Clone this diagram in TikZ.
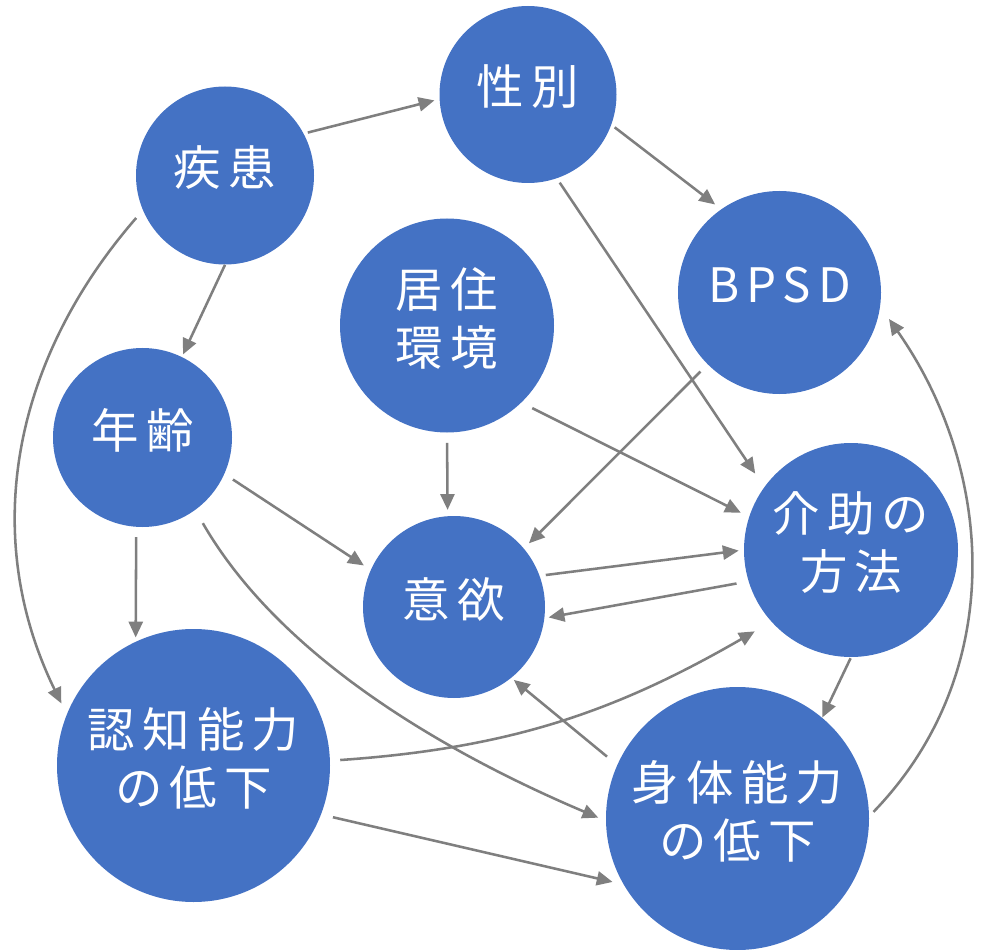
\documentclass[tikz,border=0pt]{standalone}
\usepackage{fontspec}
\setmainfont{Noto Sans CJK JP}[LetterSpace=15]
\usetikzlibrary{arrows.meta}
\definecolor{bubbleblue}{HTML}{4472C4}
\definecolor{linkgray}{HTML}{7F7F7F}

\begin{document}
\begin{tikzpicture}[
    bubble/.style={circle, fill=bubbleblue, inner sep=0pt},
    caption/.style={text=white, align=center, yshift=0.15cm,
        font=\fontsize{27}{33}\selectfont},
    link/.style={draw=linkgray, line width=1.45pt, -{Triangle[length=9pt,width=8pt]}}
]
    \useasboundingbox (0,0) rectangle (19.68,-19);

    \node[bubble, minimum size=3.56cm, label={[caption]center:疾患}] (disease) at (4.50, -3.51) {};
    \node[bubble, minimum size=3.54cm, label={[caption]center:性別}] (sex) at (10.56, -1.89) {};
    \node[bubble, minimum size=4.06cm, label={[caption]center:BPSD}] (bpsd) at (15.59, -5.85) {};
    \node[bubble, minimum size=4.28cm, label={[caption]center:{居住\\環境}}] (home) at (8.94, -6.51) {};
    \node[bubble, minimum size=3.58cm, label={[caption]center:年齢}] (age) at (2.85, -8.75) {};
    \node[bubble, minimum size=4.28cm, label={[caption]center:{介助の\\方法}}] (care) at (17.02, -11.00) {};
    \node[bubble, minimum size=3.64cm, label={[caption]center:意欲}] (motiv) at (9.08, -12.14) {};
    \node[bubble, minimum size=5.46cm, label={[caption]center:{認知能力\\の低下}}] (cogn) at (3.87, -15.31) {};
    \node[bubble, minimum size=5.26cm, label={[caption]center:{身体能力\\の低下}}] (phys) at (14.75, -16.37) {};

    % disease
    \draw[link, shorten <=0.08cm, shorten >=0.1cm] (disease.28) -- (sex.183);
    \draw[link, shorten >=0.05cm] (disease.-90) -- (age.64);
    \draw[link, shorten <=0.2cm, shorten >=0.24cm] (disease.203) to[out=229, in=116] (cogn.158);

    % sex
    \draw[link, shorten <=0.08cm, shorten >=0.15cm] (sex.-20) -- (bpsd.125);
    \draw[link, shorten <=0.1cm, shorten >=0.32cm] (sex.-71) -- (care.144);

    % bpsd
    \draw[link, shorten <=0.2cm, shorten >=0.14cm] (bpsd.225) -- (motiv.40);

    % home
    \draw[link, shorten <=0.2cm, shorten >=0.12cm] (home.-90) -- (motiv.94);
    \draw[link, shorten <=0.24cm, shorten >=0.18cm] (home.-46) -- (care.162);

    % age
    \draw[link, shorten <=0.2cm, shorten >=0.16cm] (age.-24) -- (motiv.156);
    \draw[link, shorten <=0.2cm, shorten >=0.08cm] (age.-94) -- (cogn.115);
    \draw[link, shorten <=0.3cm, shorten >=0.16cm] (age.-54) to[out=-60, in=157, looseness=0.85] (phys.181);

    % motiv <-> care
    \draw[link, shorten <=0.12cm, shorten >=0.1cm] (motiv.20) -- (care.180);
    \draw[link, shorten <=0.24cm, shorten >=0.08cm] (care.197) -- (motiv.-7);

    % care
    \draw[link, shorten <=0.02cm] (care.-90) -- (phys.50);

    % phys
    \draw[link, shorten <=0.26cm, shorten >=0.06cm] (phys.156) -- (motiv.-51);
    \draw[link, shorten <=0.12cm, shorten >=0.3cm] (phys.1) to[out=46, in=305] (bpsd.-8);

    % cogn
    \draw[link, shorten <=0.2cm, shorten >=0.38cm] (cogn.2) to[out=4, in=210] (care.222);
    \draw[link, shorten <=0.24cm, shorten >=0.22cm] (cogn.-21) -- (phys.210);
\end{tikzpicture}
\end{document}
